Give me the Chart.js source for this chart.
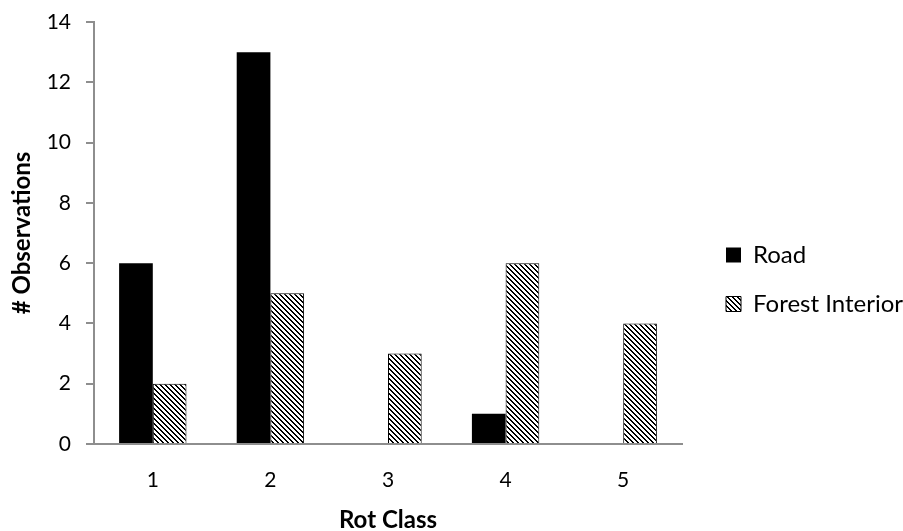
<!DOCTYPE html>
<html>
<head>
<meta charset="utf-8">
<script src="https://cdn.jsdelivr.net/npm/chart.js@4.4.1/dist/chart.umd.min.js"></script>
<style>
  html, body { margin: 0; padding: 0; background: #fff; }
  #wrap { width: 903px; height: 531px; }
</style>
</head>
<body>
<div id="wrap"><canvas id="c" width="903" height="531"></canvas></div>
<script>
// Observations per rot class
const rotClasses = ['1', '2', '3', '4', '5'];
const roadCounts = [6, 13, 0, 1, 0];
const forestCounts = [2, 5, 3, 6, 4];
const yTicks = [0, 2, 4, 6, 8, 10, 12, 14];

const FONT = 'Lato, "Open Sans", sans-serif';
const AXIS_GREY = '#8e8e8e';

// Downward-diagonal hatch used for the forest interior bars
function diagonalHatch() {
  const n = 5;
  const c = document.createElement('canvas');
  c.width = n; c.height = n;
  const g = c.getContext('2d');
  g.fillStyle = '#ffffff';
  g.fillRect(0, 0, n, n);
  g.fillStyle = '#000000';
  for (let i = 0; i < n; i++) {
    g.fillRect(i, i, 1, 1);
    g.fillRect((i + 1) % n, i, 1, 1);
  }
  return g.createPattern(c, 'repeat');
}
const hatch = diagonalHatch();

// Moves the legend block a little away from the plot and slightly down,
// and lets it run to the right edge of the canvas
const legendOffset = {
  id: 'legendOffset',
  afterLayout(chart) {
    const lg = chart.legend;
    if (!lg) return;
    const dx = 19, dy = 3;
    lg.left += dx;
    lg.right = chart.width;
    lg.width = lg.right - lg.left;
    lg.top += dy; lg.bottom += dy;
  }
};

new Chart(document.getElementById('c'), {
  type: 'bar',
  data: {
    labels: rotClasses,
    datasets: [
      {
        label: 'Road',
        data: roadCounts,
        backgroundColor: '#000000',
        borderColor: '#000000',
        borderWidth: 0
      },
      {
        label: 'Forest Interior',
        data: forestCounts,
        backgroundColor: hatch,
        borderColor: '#000000',
        borderWidth: 1
      }
    ]
  },
  options: {
    responsive: false,
    animation: false,
    layout: { padding: { top: 22, left: 0, right: 71, bottom: 0 } },
    datasets: {
      bar: { categoryPercentage: 0.573, barPercentage: 1.0 }
    },
    plugins: {
      tooltip: { enabled: false },
      legend: {
        position: 'right',
        align: 'center',
        maxWidth: 150,
        labels: {
          font: { family: FONT, size: 24 },
          color: '#000',
          boxWidth: 15,
          boxHeight: 15,
          padding: 25
        }
      }
    },
    scales: {
      x: {
        grid: { display: false, drawTicks: false },
        border: { display: true, color: AXIS_GREY, width: 2 },
        ticks: { font: { family: FONT, size: 21 }, color: '#000', padding: 24 },
        title: {
          display: true,
          text: 'Rot Class',
          font: { family: FONT, size: 24, weight: 'bold' },
          color: '#000',
          padding: { top: 0, bottom: -4 }
        },
        afterFit(s) { s.height = 87; }
      },
      y: {
        min: 0,
        max: 14,
        afterBuildTicks(s) { s.ticks = yTicks.map(v => ({ value: v })); },
        grid: { drawOnChartArea: false, drawTicks: true, tickLength: 8, color: AXIS_GREY, lineWidth: 2 },
        border: { display: true, color: AXIS_GREY, width: 2 },
        ticks: { font: { family: FONT, size: 21 }, color: '#000', padding: 15 },
        title: {
          display: true,
          text: '# Observations',
          font: { family: FONT, size: 24, weight: 'bold' },
          color: '#000',
          padding: { top: 8, bottom: 0 }
        },
        afterFit(s) {
          s.width = 94;
          s.paddingTop = 0;
        }
      }
    }
  },
  plugins: [legendOffset]
});
</script>
</body>
</html>
